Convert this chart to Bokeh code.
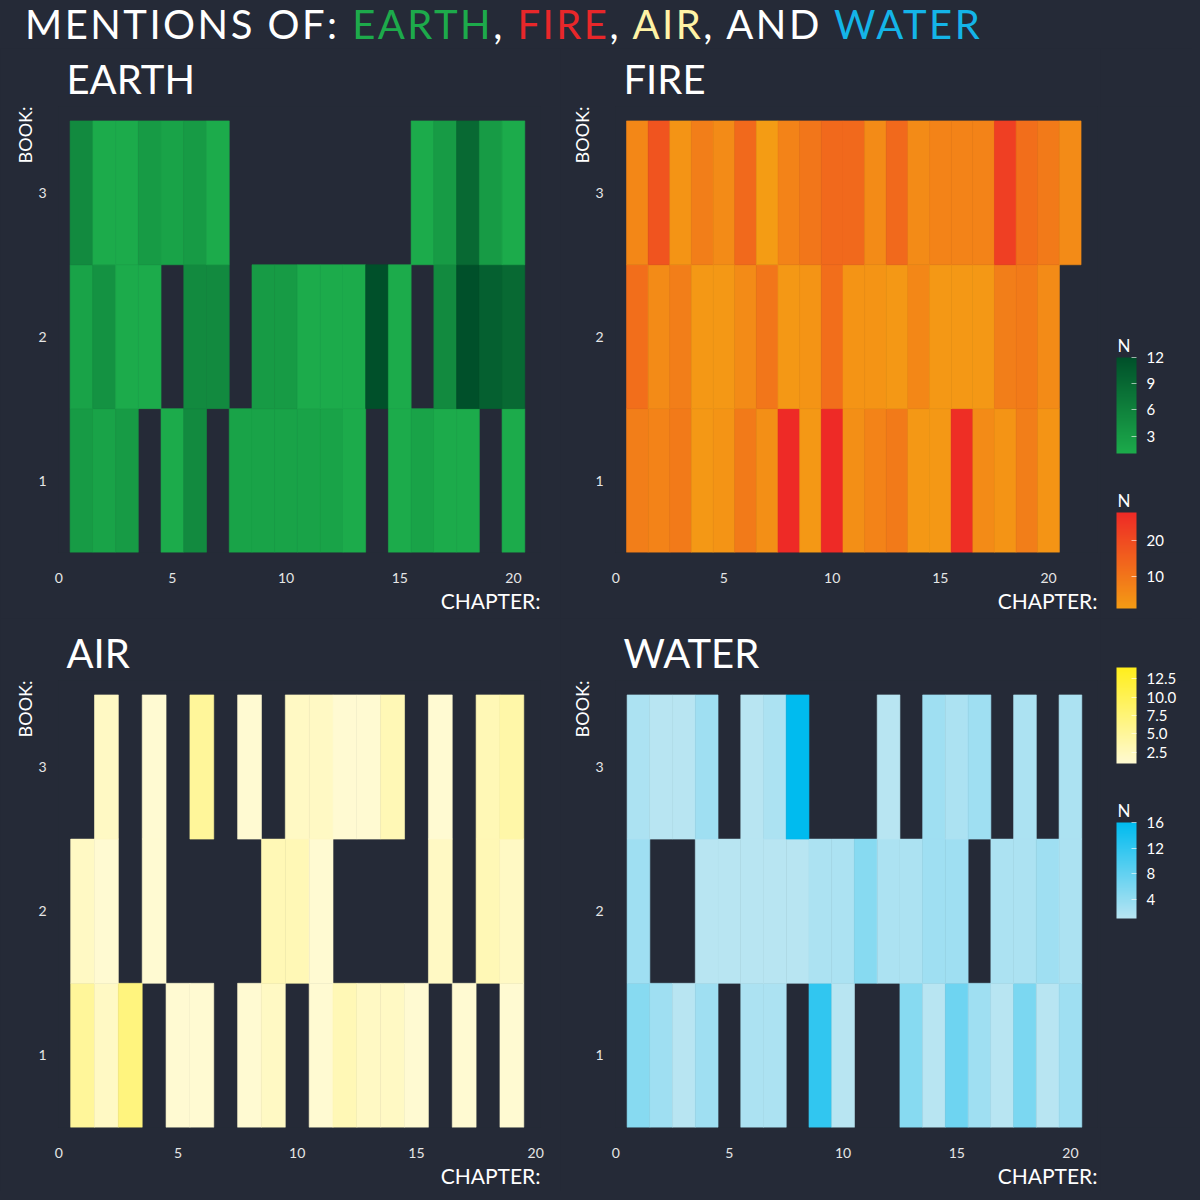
import numpy as np
from bokeh.plotting import figure
from bokeh.models import (ColumnDataSource, LinearColorMapper, ColorBar, FixedTicker,
                          Title, Div, PrintfTickFormatter, Range1d, Label)
from bokeh.layouts import column, row
from bokeh.transform import transform
from bokeh.embed import file_html
from bokeh.resources import INLINE

BG = "#252A37"
FONT = "Lato"
TXT = "#FFFFFF"

# ---------------- data (mentions per chapter; None = no mention) ----------------
books = [1, 2, 3]
x_ticks = [0, 5, 10, 15, 20]

earth_book1 = [3, 2, 3, None, 1, 5, None, 2, 2, 2, 2, 2, 1, None, 1, 2, 1, 1, None, 1]
earth_book2 = [2, 4, 1, 1, None, 5, 5, None, 3, 3, 1, 1, 1, 12, 1, None, 5, 12, 10, 9]
earth_book3 = [5, 1, 1, 3, 2, 3, 1, None, None, None, None, None, None, None, None, 1, 3, 9, 3, 1]

fire_book1 = [8, 7, 9, 2, 3, 9, 4, 28, 2, 28, 4, 7, 9, 2, 2, 27, 5, 3, 8, 3]
fire_book2 = [12, 5, 8, 2, 2, 5, 10, 2, 3, 12, 3, 3, 2, 6, 2, 2, 2, 8, 9, 5]
fire_book3 = [6, 18, 3, 8, 5, 13, 1, 7, 10, 13, 13, 5, 13, 5, 7, 7, 7, 23, 12, 9, 5]

air_book1 = [5, 2, 7, None, 1, 1, None, 1, 2, None, 1, 3, 2, 2, 1, None, 1, None, 1]
air_book2 = [2, 1, None, 1, None, None, None, None, 3, 3, 1, None, None, None, None, 2, None, 3, 2]
air_book3 = [None, 2, None, 1, None, 5, None, 1, None, 2, 2, 1, 1, 3, None, 1, None, 3, 4]

water_book1 = [5, 3, 1, 3, None, 2, 2, None, 12, 1, None, None, 5, 1, 7, 3, 1, 6, 1, 3]
water_book2 = [3, None, None, 1, 1, 1, 1, 1, 2, 2, 5, 2, 2, 3, 3, None, 2, 2, 3, 2]
water_book3 = [2, 1, 1, 3, None, 1, 2, 16, None, None, None, 1, None, 3, 2, 3, None, 2, None, 2]

# legend (colour-scale) limits and ticks
earth_limits, earth_ticks = (1, 12), [3, 6, 9, 12]
fire_limits, fire_ticks = (1, 28), [10, 20]
air_limits, air_ticks = (1, 14), [2.5, 5.0, 7.5, 10.0, 12.5]
water_limits, water_ticks = (1, 16), [4, 8, 12, 16]


def lerp_palette(c1, c2, n=256):
    a = np.array([int(c1[i:i + 2], 16) for i in (1, 3, 5)], float)
    b = np.array([int(c2[i:i + 2], 16) for i in (1, 3, 5)], float)
    return ["#%02x%02x%02x" % tuple(int(round(v)) for v in a + (b - a) * t)
            for t in np.linspace(0, 1, n)]


def heat(name, rows, limits, lo_col, hi_col, x_end, w, h, bl, br, bt, bb):
    xs, ys, ns = [], [], []
    for bk, vals in zip(books, rows):
        for i, v in enumerate(vals):
            if v is not None:
                xs.append(i + 1)
                ys.append(bk)
                ns.append(v)
    src = ColumnDataSource(dict(chapter=xs, book=ys, n=ns))
    mapper = LinearColorMapper(palette=lerp_palette(lo_col, hi_col),
                               low=limits[0], high=limits[1])
    p = figure(width=w, height=h, x_range=Range1d(-0.01, x_end), y_range=Range1d(0.5, 3.6),
               output_backend="svg", toolbar_location=None,
               min_border_left=bl, min_border_right=br, min_border_top=bt, min_border_bottom=bb)
    p.rect(x="chapter", y="book", width=1, height=1, source=src,
           fill_color=transform("n", mapper), line_color=transform("n", mapper), line_width=0.6)
    p.background_fill_color = BG
    p.border_fill_color = BG
    p.outline_line_color = None
    p.grid.visible = False
    p.xaxis.ticker = FixedTicker(ticks=x_ticks)
    p.yaxis.ticker = FixedTicker(ticks=books)
    for ax in (p.xaxis[0], p.yaxis[0]):
        ax.axis_line_color = None
        ax.major_tick_line_color = None
        ax.minor_tick_line_color = None
        ax.major_tick_in = 0
        ax.major_tick_out = 0
        ax.minor_tick_in = 0
        ax.minor_tick_out = 0
        ax.major_label_text_font = FONT
        ax.major_label_text_font_size = "14px"
        ax.major_label_text_color = "#E6E6E6"
    p.xaxis.major_label_standoff = 20
    p.yaxis.major_label_standoff = 12
    p.title.text = name
    p.title.align = "left"
    p.title.offset = 8
    p.title.standoff = 8
    p.title.text_font = FONT
    p.title.text_font_size = "40px"
    p.title.text_font_style = "normal"
    p.title.text_color = TXT
    p.add_layout(Title(text="CHAPTER:", align="right", text_font=FONT, text_font_size="21px",
                       text_font_style="normal", text_color=TXT, standoff=0,
                       text_line_height=1.0), "below")
    p.add_layout(Title(text="BOOK:", align="right", text_font=FONT, text_font_size="18px",
                       text_font_style="normal", text_color=TXT, standoff=0), "left")
    return p, mapper


def cbar(mapper, ticks, loc, fmt=None):
    cb = ColorBar(color_mapper=mapper, ticker=FixedTicker(ticks=ticks), width=20, height=96,
                  location=loc, padding=0, major_label_text_font=FONT,
                  major_label_text_font_size="15px",
                  major_label_text_color=TXT, label_standoff=10,
                  major_tick_line_color="white", major_tick_line_alpha=0.6,
                  major_tick_in=5, major_tick_out=0, bar_line_color=None,
                  background_fill_alpha=0, border_line_color=None)
    if fmt:
        cb.formatter = PrintfTickFormatter(format=fmt)
    return cb


def n_label(x, y):
    return Label(x=x, y=y, x_units="screen", y_units="screen", text="N", text_font=FONT,
                 text_font_size="17px", text_color=TXT, text_baseline="alphabetic",
                 text_align="left")


def legend_fig(h, bt, bb, items):
    p = figure(width=92, height=h, x_range=(0, 1), y_range=(0, 1), output_backend="svg",
               toolbar_location=None, min_border_left=0, min_border_right=0,
               min_border_top=bt, min_border_bottom=bb,
               x_axis_location=None, y_axis_location=None)
    p.background_fill_color = BG
    p.border_fill_color = BG
    p.outline_line_color = None
    p.grid.visible = False
    for it in items:
        p.add_layout(it, "center")
    return p


ROW1_H, ROW2_H = 570, 573

earth, m_earth = heat("EARTH", [earth_book1, earth_book2, earth_book3], earth_limits,
                      "#1CAB4B", "#00502A", 21.19, 560, ROW1_H, 58, 20, 58, 66)
fire, m_fire = heat("FIRE", [fire_book1, fire_book2, fire_book3], fire_limits,
                    "#F49C14", "#EE2A26", 22.26, 540, ROW1_H, 55, 3, 58, 66)
air, m_air = heat("AIR", [air_book1, air_book2, air_book3], air_limits,
                  "#FFFAD2", "#FFEE1C", 20.2, 560, ROW2_H, 58, 20, 62, 64)
water, m_water = heat("WATER", [water_book1, water_book2, water_book3], water_limits,
                      "#B8E5F2", "#00BBEF", 21.19, 540, ROW2_H, 55, 3, 62, 64)

leg1 = legend_fig(ROW1_H, 58, 66, [cbar(m_earth, earth_ticks, (16, 99)), n_label(17, 207),
                                   cbar(m_fire, fire_ticks, (16, -56)), n_label(17, 52)])
leg2 = legend_fig(ROW2_H, 62, 64, [cbar(m_air, air_ticks, (16, 364), "%.1f"), n_label(17, 472),
                                   cbar(m_water, water_ticks, (16, 209)), n_label(17, 317)])

title_html = ('<div style="font-family:Lato;font-size:40px;line-height:48px;color:#FFFFFF;'
              'letter-spacing:2.5px;padding-left:25px;white-space:nowrap">MENTIONS OF: '
              '<span style="color:#1DAA4B">EARTH</span>, '
              '<span style="color:#E8272A">FIRE</span>, '
              '<span style="color:#FFF3A6">AIR</span>, AND '
              '<span style="color:#14B4E8">WATER</span></div>')
head = Div(text=title_html, width=1192, height=48, margin=(0, 0, 0, 0))

layout = column(head, row(earth, fire, leg1), row(air, water, leg2))

html = file_html(layout, INLINE, title="Mentions of: Earth, Fire, Air, and Water")
cut = html.find("</head>")
body_at = html.find("<body", cut)
html = html[:body_at] + '<body style="background-color:#252A37;"' + html[body_at + 5:]
open("out.html", "w").write(html)
